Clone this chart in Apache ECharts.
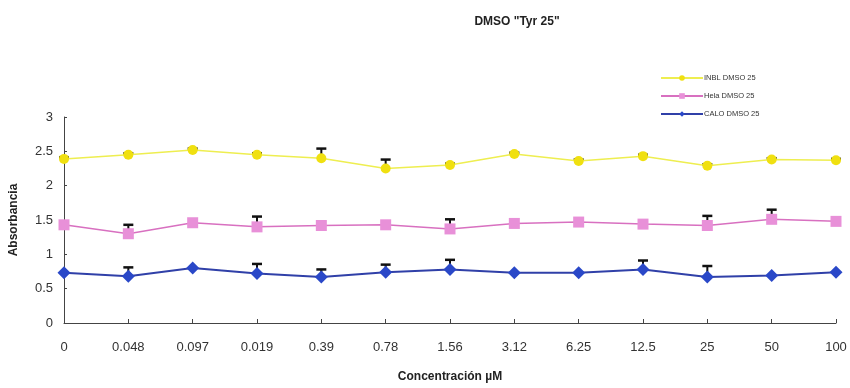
<!DOCTYPE html>
<html><head><meta charset="utf-8">
<script src="https://cdn.jsdelivr.net/npm/echarts@6/dist/echarts.min.js"></script>
<style>html,body{margin:0;padding:0;background:#fff}#c{width:850px;height:388px}</style>
</head><body><div id="c"></div>
<script>
var categories = ['0','0.048','0.097','0.019','0.39','0.78','1.56','3.12','6.25','12.5','25','50','100'];
var inblValues = [2.39,2.45,2.52,2.45,2.40,2.25,2.30,2.46,2.36,2.43,2.29,2.38,2.37];
var inblErrors = [0.02,0.02,0.02,0.02,0.14,0.13,0.02,0.02,0.02,0.02,0.02,0.02,0.02];
var helaValues = [1.43,1.30,1.46,1.40,1.42,1.43,1.37,1.45,1.47,1.44,1.42,1.51,1.48];
var helaErrors = [0,0.13,0,0.15,0,0,0.14,0,0,0,0.14,0.14,0];
var caloValues = [0.73,0.68,0.80,0.72,0.67,0.74,0.78,0.73,0.73,0.78,0.67,0.69,0.74];
var caloErrors = [0,0.13,0,0.14,0.11,0.11,0.14,0,0,0.13,0.16,0,0];
var seriesNames = ['INBL DMSO 25','Hela DMSO 25','CALO DMSO 25'];
var yTicks = [0,0.5,1,1.5,2,2.5,3];

function errData(vals, errs){
  return vals.map(function(v,i){ return [i, v, v+errs[i]]; });
}
function errSeries(vals, errs){
  return {
    type:'custom', silent:true, z:1,
    data: errData(vals, errs),
    renderItem: function(params, api){
      var lo = api.coord([api.value(0), api.value(1)]);
      var hi = api.coord([api.value(0), api.value(2)]);
      if (Math.abs(lo[1]-hi[1]) < 0.5) return null;
      return {type:'group', children:[
        {type:'line', shape:{x1:lo[0],y1:lo[1],x2:hi[0],y2:hi[1]}, style:{stroke:'#111',lineWidth:2}},
        {type:'line', shape:{x1:hi[0]-5,y1:hi[1],x2:hi[0]+5,y2:hi[1]}, style:{stroke:'#111',lineWidth:2.5}}
      ]};
    }
  };
}

var chart = echarts.init(document.getElementById('c'));
chart.setOption({
  animation:false,
  backgroundColor:'#fff',
  title:{text:'DMSO "Tyr 25"', left:512, top:11, textAlign:'center',
    textStyle:{fontFamily:'Liberation Sans', fontSize:12, fontWeight:'bold', color:'#222'}},
  legend:{orient:'vertical', left:655, top:69, itemGap:10, itemWidth:42, itemHeight:7,
    textStyle:{fontFamily:'Liberation Sans', fontSize:7.5, color:'#333', padding:[0,0,0,-4]},
    data:seriesNames},
  grid:{left:64, right:14, top:117, bottom:60},
  xAxis:{type:'category', data:categories, boundaryGap:false,
    name:'Concentración µM', nameLocation:'middle', nameGap:48,
    nameTextStyle:{fontFamily:'Liberation Sans', fontSize:12, fontWeight:'bold', color:'#222'},
    axisLine:{lineStyle:{color:'#444', width:1}},
    axisTick:{inside:true, length:4, lineStyle:{color:'#444'}, alignWithLabel:true},
    axisLabel:{fontFamily:'Liberation Sans', fontSize:13, color:'#333', margin:18}},
  yAxis:{type:'value', min:0, max:3, interval:0.5,
    name:'Absorbancia', nameLocation:'middle', nameGap:44, nameRotate:90,
    nameTextStyle:{fontFamily:'Liberation Sans', fontSize:12, fontWeight:'bold', color:'#222'},
    axisLine:{show:true, lineStyle:{color:'#444', width:1}},
    axisTick:{show:true, inside:true, length:3, lineStyle:{color:'#444'}},
    splitLine:{show:false},
    axisLabel:{fontFamily:'Liberation Sans', fontSize:13, color:'#333', margin:11,
      formatter:function(v){ return yTicks.indexOf(v)>=0 ? String(v) : ''; }}},
  series:[
    errSeries(inblValues, inblErrors),
    errSeries(helaValues, helaErrors),
    errSeries(caloValues, caloErrors),
    {name:seriesNames[0], type:'line', data:inblValues, symbol:'circle', symbolSize:10, z:3,
      lineStyle:{color:'#eeee50', width:1.5}, itemStyle:{color:'#f0e010'}},
    {name:seriesNames[1], type:'line', data:helaValues, symbol:'rect', symbolSize:11, z:3,
      lineStyle:{color:'#d870c0', width:1.5}, itemStyle:{color:'#e890d8'}},
    {name:seriesNames[2], type:'line', data:caloValues, symbol:'diamond', symbolSize:13, z:3,
      lineStyle:{color:'#3040a8', width:2}, itemStyle:{color:'#2a48c8'}}
  ]
});
</script></body></html>
